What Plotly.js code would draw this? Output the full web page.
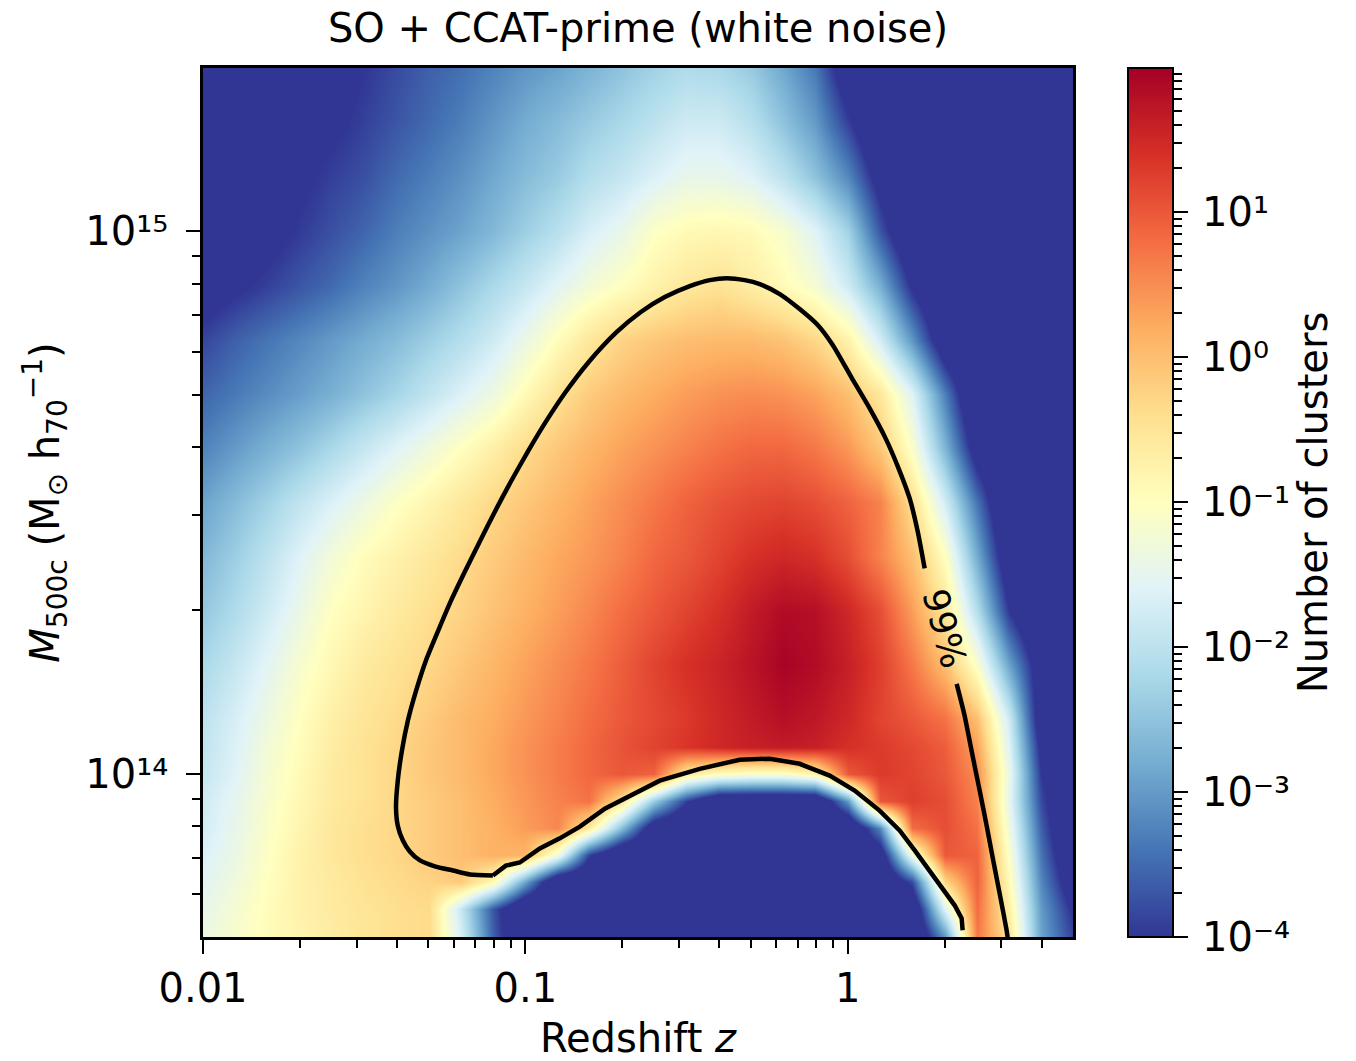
<!DOCTYPE html>
<html>
<head>
<meta charset="utf-8">
<script src="https://cdn.plot.ly/plotly-3.0.1.min.js"></script>
<style>html,body{margin:0;padding:0;background:#fff;} #chart{width:1356px;height:1061px;}</style>
</head>
<body>
<div id="chart"></div>
<script>
// Redshift bin centres (x) and mass bin centres (y)
const redshift = [0.0100, 0.0126, 0.0158, 0.0200, 0.0251, 0.0316, 0.0398, 0.0501, 0.0631, 0.0794,
                  0.100, 0.126, 0.158, 0.200, 0.251, 0.316, 0.398, 0.501, 0.631, 0.794,
                  1.00, 1.26, 1.58, 2.00, 2.51, 3.16, 3.98, 5.01];
const mass = [5.012e13, 5.623e13, 6.310e13, 7.079e13, 7.943e13, 8.913e13, 1.000e14, 1.122e14, 1.259e14,
              1.585e14, 1.995e14, 2.512e14, 3.162e14, 3.981e14, 5.012e14, 6.310e14, 7.943e14,
              1.000e15, 1.259e15, 1.585e15, 1.995e15];
// log10(number of clusters) per cell, rows follow `mass`, columns follow `redshift`
const logClusters = [
  [-1.35,-1.15,-0.95,-0.8,-0.65,-0.5,-0.4,-0.35,-1.7,-3.6,-5,-5,-5,-5,-5,-5,-5,-5,-5,-5,-5,-5,-5,-3.0,0.7,-0.5,-2.9,-3.9],
  [-1.45,-1.2,-0.95,-0.75,-0.6,-0.5,-0.4,-0.35,-1.9,-3.7,-5,-5,-5,-5,-5,-5,-5,-5,-5,-5,-5,-5,-4.8,-1.6,0.8,-0.7,-3.0,-4.1],
  [-1.55,-1.3,-1.0,-0.75,-0.6,-0.45,-0.35,-0.25,-0.15,-0.9,-2.9,-5,-5,-5,-5,-5,-5,-5,-5,-5,-5,-5,-3.8,-0.3,0.9,-0.9,-3.2,-4.5],
  [-1.65,-1.4,-1.05,-0.75,-0.55,-0.4,-0.3,-0.15,0.0,0.15,0.1,-1.3,-3.9,-5,-5,-5,-5,-5,-5,-5,-5,-4.5,-1.3,1.0,0.9,-1.1,-3.4,-4.8],
  [-1.75,-1.45,-1.1,-0.8,-0.55,-0.4,-0.3,-0.15,0.0,0.15,0.35,0.55,-0.6,-2.6,-4.6,-5,-5,-5,-5,-5,-5,-3.2,0.8,1.1,0.75,-1.3,-3.6,-5],
  [-1.8,-1.5,-1.15,-0.85,-0.6,-0.45,-0.3,-0.15,0.0,0.2,0.4,0.6,0.75,-0.5,-2.4,-3.9,-5,-5,-5,-5,-3.0,1.0,1.25,1.1,0.6,-1.5,-3.8,-5],
  [-1.9,-1.6,-1.2,-0.9,-0.6,-0.45,-0.3,-0.1,0.05,0.25,0.45,0.65,0.85,1.0,0.9,-0.6,-1.0,-1.15,-1.15,-0.8,1.0,1.3,1.2,1.0,0.5,-1.4,-4.0,-5],
  [-1.95,-1.65,-1.25,-0.95,-0.65,-0.45,-0.3,-0.1,0.05,0.25,0.45,0.65,0.85,1.05,1.2,1.35,1.5,1.6,1.65,1.6,1.4,1.3,1.15,0.95,0.3,-1.6,-4.2,-5],
  [-2.0,-1.7,-1.35,-1.0,-0.7,-0.5,-0.35,-0.15,0.05,0.2,0.4,0.6,0.8,1.0,1.15,1.3,1.5,1.65,1.8,1.7,1.5,1.2,1.0,0.75,0.0,-1.8,-4.5,-5],
  [-2.2,-1.9,-1.55,-1.15,-0.85,-0.6,-0.45,-0.3,-0.1,0.1,0.3,0.5,0.7,0.95,1.2,1.4,1.55,1.75,1.95,1.85,1.6,1.25,0.7,0.0,-1.1,-2.9,-4.5,-5],
  [-2.45,-2.15,-1.8,-1.4,-1.0,-0.8,-0.6,-0.4,-0.25,-0.05,0.15,0.35,0.55,0.8,1.0,1.2,1.4,1.65,1.85,1.8,1.5,1.1,0.35,-0.5,-2.1,-4.0,-5,-5],
  [-2.65,-2.35,-2.0,-1.6,-1.25,-0.95,-0.75,-0.55,-0.35,-0.15,0.05,0.25,0.4,0.6,0.85,1.0,1.2,1.4,1.5,1.4,1.1,0.6,0.0,-1.0,-2.8,-4.6,-5,-5],
  [-2.9,-2.6,-2.3,-1.95,-1.65,-1.35,-1.05,-0.8,-0.55,-0.3,-0.1,0.1,0.3,0.5,0.7,0.9,1.05,1.15,1.2,1.1,0.9,0.6,-0.4,-1.75,-3.4,-5,-5,-5],
  [-3.25,-3.0,-2.75,-2.5,-2.2,-1.9,-1.6,-1.3,-1.0,-0.7,-0.35,-0.1,0.1,0.3,0.45,0.6,0.75,0.85,0.85,0.7,0.4,-0.1,-1.1,-2.7,-4.4,-5,-5,-5],
  [-3.55,-3.35,-3.15,-2.95,-2.75,-2.5,-2.25,-1.95,-1.65,-1.35,-0.9,-0.45,-0.15,0.05,0.2,0.35,0.45,0.5,0.45,0.3,0.0,-0.55,-1.6,-3.3,-5,-5,-5,-5],
  [-3.85,-3.6,-3.4,-3.2,-3.0,-2.8,-2.6,-2.35,-2.1,-1.8,-1.4,-0.95,-0.55,-0.25,-0.1,0.0,0.05,0.05,-0.05,-0.3,-0.75,-1.75,-3.05,-4.6,-5,-5,-5,-5],
  [-4.3,-4.1,-3.9,-3.7,-3.5,-3.25,-3.05,-2.8,-2.5,-2.2,-1.9,-1.55,-1.25,-1.0,-0.75,-0.55,-0.45,-0.65,-0.9,-1.2,-1.8,-2.75,-4.1,-5,-5,-5,-5,-5],
  [-4.6,-4.4,-4.2,-3.95,-3.75,-3.55,-3.3,-3.1,-2.9,-2.65,-2.35,-2.05,-1.7,-1.45,-1.05,-0.9,-0.85,-0.9,-1.15,-1.6,-2.3,-3.7,-4.8,-5,-5,-5,-5,-5],
  [-4.7,-4.5,-4.3,-4.1,-3.9,-3.75,-3.5,-3.3,-3.1,-2.85,-2.6,-2.4,-2.1,-1.9,-1.65,-1.45,-1.45,-1.6,-2.0,-2.5,-3.2,-4.3,-5,-5,-5,-5,-5,-5],
  [-4.8,-4.6,-4.4,-4.3,-4.1,-3.9,-3.7,-3.5,-3.3,-3.05,-2.8,-2.6,-2.4,-2.2,-2.0,-1.8,-1.8,-2.05,-2.5,-3.0,-3.9,-4.8,-5,-5,-5,-5,-5,-5],
  [-4.9,-4.8,-4.7,-4.5,-4.2,-4.0,-3.8,-3.6,-3.45,-3.25,-3.05,-2.9,-2.7,-2.5,-2.3,-2.15,-2.2,-2.4,-2.85,-3.35,-4.5,-5,-5,-5,-5,-5,-5,-5]
];

// 99% contour: upper part (left branch, top, right branch down to the label)
const contour99Upper_z = [0.0793,0.0673,0.0596,0.0524,0.0471,0.0438,0.0417,0.0402,0.0397,
  0.0402,0.0414,0.0432,0.0458,0.0491,0.0536,0.0587,0.0650,0.0723,0.0805,0.0902,0.1018,0.1158,0.1335,0.1573,0.1922,0.2282,0.2708,0.3237,0.3733,
  0.4214,
  0.4794,0.5336,0.6154,0.7096,0.8072,0.8985,1.029,1.162,1.312,1.439,1.557,1.649,1.733];
const contour99Upper_m = [6.49e13,6.52e13,6.63e13,6.75e13,6.92e13,7.19e13,7.53e13,8.02e13,8.66e13,
  9.71e13,1.102e14,1.252e14,1.421e14,1.614e14,1.832e14,2.080e14,2.362e14,2.682e14,3.045e14,3.457e14,3.925e14,4.457e14,5.060e14,5.743e14,6.522e14,7.098e14,7.563e14,7.923e14,8.127e14,
  8.196e14,
  8.127e14,7.991e14,7.660e14,7.189e14,6.718e14,6.172e14,5.368e14,4.749e14,4.147e14,3.652e14,3.217e14,2.797e14,2.391e14];
// 99% contour: lower right part (below the label)
const contour99Lower_z = [2.178,2.306,2.389,2.476,2.567,2.698,2.816,2.960,3.112,3.134];
const contour99Lower_m = [1.464e14,1.278e14,1.150e14,1.034e14,9.307e13,8.024e13,7.009e13,6.017e13,5.145e13,4.993e13];
// lower boundary (detection limit)
const detection_z = [0.0793,0.0833,0.0870,0.0961,0.1033,0.1109,0.1279,0.1476,0.1764,0.2109,0.2612,0.3477,0.4625,0.5729,0.7096,0.8794,1.051,1.256,1.449,1.614,1.796,1.999,2.147,2.257,2.273];
const detection_m = [6.49e13,6.63e13,6.77e13,6.86e13,7.07e13,7.28e13,7.60e13,7.99e13,8.62e13,9.11e13,9.71e13,1.021e14,1.061e14,1.066e14,1.043e14,9.92e13,9.31e13,8.55e13,7.86e13,7.22e13,6.63e13,6.09e13,5.72e13,5.41e13,5.145e13];
const contourLabelText = '99%';
const contourLabel_z = 2.0;
const contourLabel_m = 1.855e14;

// ticks
const xTickVals = [0.01, 0.1, 1];
const xTickText = ['0.01', '0.1', '1'];
const xMinorTicks = [0.02,0.03,0.04,0.05,0.06,0.07,0.08,0.09,0.2,0.3,0.4,0.5,0.6,0.7,0.8,0.9,2,3,4];
const yTickVals = [1e14, 1e15];
const yTickText = ['10\u00B9\u2074', '10\u00B9\u2075'];
const yMinorTicks = [6e13,7e13,8e13,9e13,2e14,3e14,4e14,5e14,6e14,7e14,8e14,9e14];
const cbTickVals = [1e-4, 1e-3, 1e-2, 1e-1, 1, 10];
const cbTickText = ['10\u207B\u2074','10\u207B\u00B3','10\u207B\u00B2','10\u207B\u00B9','10\u2070','10\u00B9'];
const cbMinorTicks = [2e-4,3e-4,4e-4,5e-4,6e-4,7e-4,8e-4,9e-4,2e-3,3e-3,4e-3,5e-3,6e-3,7e-3,8e-3,9e-3,
  2e-2,3e-2,4e-2,5e-2,6e-2,7e-2,8e-2,9e-2,0.2,0.3,0.4,0.5,0.6,0.7,0.8,0.9,2,3,4,5,6,7,8,9,20,30,40,50,60,70,80,90];

const cmap = [[0,'#313695'],[0.1,'#4575b4'],[0.2,'#74add1'],[0.3,'#abd9e9'],[0.4,'#e0f3f8'],[0.5,'#ffffbf'],
              [0.6,'#fee090'],[0.7,'#fdae61'],[0.8,'#f46d43'],[0.9,'#d73027'],[1,'#a50026']];

const FONT = 'DejaVu Sans';
const W = 1356, H = 1061;
const L = 203, R = 56, T = 68, B = 124;
const PW = W - L - R;
const plotRight = 1073, cbLeft = 1128, cbRight = 1173;
const cbMin = -4, cbMax = 1.993;

const traces = [
  {
    type: 'heatmap', x: redshift, y: mass, z: logClusters,
    zmin: cbMin, zmax: cbMax, colorscale: cmap, zsmooth: 'best', hoverinfo: 'skip',
    colorbar: {
      x: (cbLeft - L) / PW, xanchor: 'left', xref: 'paper', xpad: 0,
      y: 0.5, yanchor: 'middle', yref: 'paper', ypad: 0,
      len: 1, lenmode: 'fraction', thickness: cbRight - cbLeft, thicknessmode: 'pixels',
      outlinewidth: 2, outlinecolor: '#000', ticks: '', showticklabels: false
    }
  },
  { type: 'scatter', mode: 'lines', x: contour99Upper_z, y: contour99Upper_m,
    line: {color: '#000', width: 4.5, shape: 'spline', smoothing: 0.6}, hoverinfo: 'skip', showlegend: false },
  { type: 'scatter', mode: 'lines', x: contour99Lower_z, y: contour99Lower_m,
    line: {color: '#000', width: 4.5, shape: 'spline', smoothing: 0.6}, hoverinfo: 'skip', showlegend: false },
  { type: 'scatter', mode: 'lines', x: detection_z, y: detection_m,
    line: {color: '#000', width: 4.5}, hoverinfo: 'skip', showlegend: false },
  { type: 'scatter', mode: 'lines', x: [], y: [], xaxis: 'x2', yaxis: 'y2', hoverinfo: 'skip', showlegend: false }
];

const axisCommon = {
  showgrid: false, zeroline: false, showline: true, linewidth: 2.5, linecolor: '#000',
  ticks: 'outside', ticklen: 14, tickwidth: 2, tickcolor: '#000',
  tickfont: {family: FONT, size: 40, color: '#000'}, tickmode: 'array'
};

const layout = {
  width: W, height: H,
  margin: {l: L, r: R, t: T, b: B},
  paper_bgcolor: '#fff', plot_bgcolor: '#fff', showlegend: false,
  font: {family: FONT, color: '#000', size: 40},
  title: {text: 'SO + CCAT-prime (white noise)', font: {family: FONT, size: 40, color: '#000'},
          xref: 'paper', x: ((L + plotRight) / 2 - L) / PW, xanchor: 'center',
          yref: 'container', y: 1 - 28 / H, yanchor: 'middle'},
  xaxis: Object.assign({}, axisCommon, {
    domain: [0, (plotRight - L) / PW], type: 'log', range: [Math.log10(0.01), Math.log10(5)],
    mirror: true, tickvals: xTickVals, ticktext: xTickText,
    minor: {tickmode: 'array', tickvals: xMinorTicks, ticks: 'outside', ticklen: 8, tickwidth: 1.5, tickcolor: '#000', showgrid: false},
    title: {text: 'Redshift <i>z</i>', font: {family: FONT, size: 40, color: '#000'}, standoff: 22}
  }),
  yaxis: Object.assign({}, axisCommon, {
    domain: [0, 1], type: 'log', range: [Math.log10(5e13), Math.log10(2e15)],
    mirror: true, tickvals: yTickVals, ticktext: yTickText, ticklabelstandoff: 10,
    minor: {tickmode: 'array', tickvals: yMinorTicks, ticks: 'outside', ticklen: 8, tickwidth: 1.5, tickcolor: '#000', showgrid: false},
    title: {text: '<i>M</i><sub>500c</sub> (M<sub>\u2299</sub> h<sub>70</sub><sup>\u22121</sup>)', font: {family: FONT, size: 40, color: '#000'}, standoff: 14}
  }),
  xaxis2: {domain: [(cbLeft - L) / PW, (cbRight - L) / PW], anchor: 'y2', visible: false, range: [0, 1]},
  yaxis2: Object.assign({}, axisCommon, {
    domain: [0, 1], anchor: 'x2', side: 'right', type: 'log', range: [cbMin, cbMax],
    showline: false, tickvals: cbTickVals, ticktext: cbTickText, ticklabelstandoff: 6,
    minor: {tickmode: 'array', tickvals: cbMinorTicks, ticks: 'outside', ticklen: 8, tickwidth: 1.5, tickcolor: '#000', showgrid: false},
    title: {text: 'Number of clusters', font: {family: FONT, size: 40, color: '#000'}, standoff: 8}
  }),
  annotations: [{
    xref: 'x', yref: 'y', x: Math.log10(contourLabel_z), y: Math.log10(contourLabel_m),
    text: contourLabelText, showarrow: false, textangle: 75,
    font: {family: FONT, size: 36, color: '#000'}
  }]
};

Plotly.newPlot('chart', traces, layout, {displayModeBar: false});
</script>
</body>
</html>
